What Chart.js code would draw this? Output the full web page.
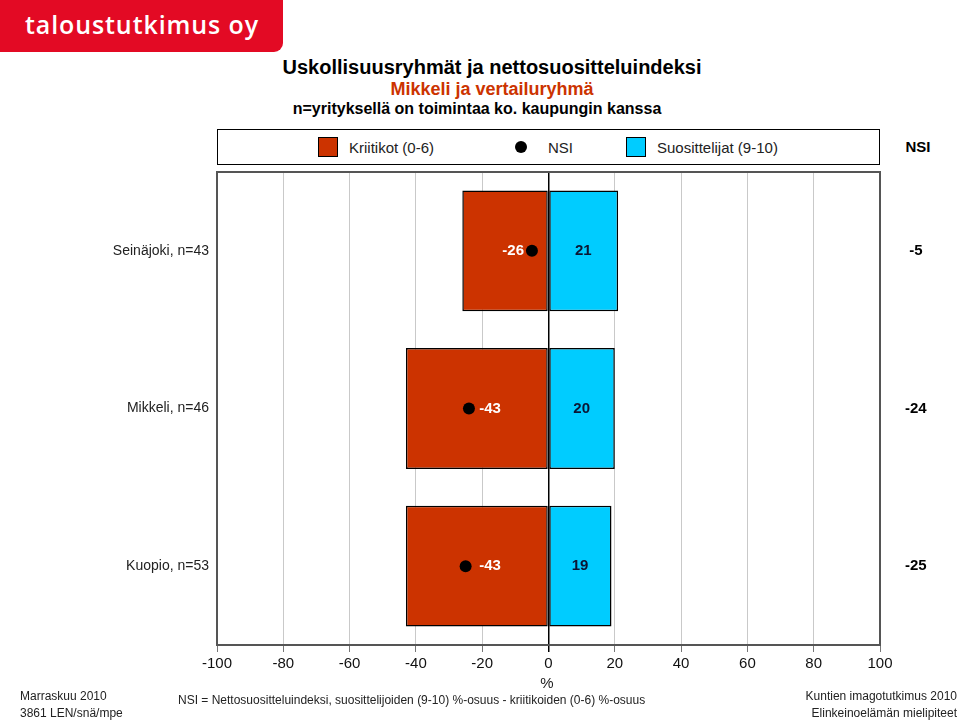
<!DOCTYPE html>
<html>
<head>
<meta charset="utf-8">
<script src="https://cdn.jsdelivr.net/npm/chart.js@4/dist/chart.umd.min.js"></script>
<style>
html,body{margin:0;padding:0;background:#fff;}
body{width:960px;height:720px;position:relative;overflow:hidden;font-family:"Liberation Sans",Arial,Helvetica,sans-serif;color:#111;}
#wrap{position:absolute;left:0;top:0;width:960px;height:720px;}
.t{position:absolute;white-space:nowrap;line-height:1;}
.c{transform:translateX(-50%);}
#logo{position:absolute;left:0;top:0;width:283px;height:52px;background:#E30A24;border-bottom-right-radius:9px;}
#logo span{position:absolute;left:25px;top:12px;font-family:"Open Sans",sans-serif;font-weight:600;font-size:25px;line-height:1;color:#fff;letter-spacing:0.9px;}
#legend{position:absolute;left:217px;top:129px;width:661px;height:34px;border:1px solid #000;}
.sq{position:absolute;width:18px;height:18px;border:1px solid #000;}
.dot{position:absolute;width:12px;height:12px;border-radius:50%;background:#000;}
</style>
</head>
<body>
<div id="logo"><span>taloustutkimus oy</span></div>

<div class="t c" style="left:492px;top:57px;font-size:20px;font-weight:bold;color:#000;">Uskollisuusryhmät ja nettosuositteluindeksi</div>
<div class="t c" style="left:492px;top:80px;font-size:18px;font-weight:bold;color:#CC3300;">Mikkeli ja vertailuryhmä</div>
<div class="t c" style="left:477px;top:101px;font-size:16px;font-weight:bold;color:#000;">n=yrityksellä on toimintaa ko. kaupungin kanssa</div>

<div id="legend"></div>
<div class="sq" style="left:318px;top:137px;background:#CC3300;"></div>
<div class="t" style="left:349px;top:140px;font-size:15px;color:#222;">Kriitikot (0-6)</div>
<div class="dot" style="left:515px;top:141px;"></div>
<div class="t" style="left:548px;top:140px;font-size:15px;color:#222;">NSI</div>
<div class="sq" style="left:626px;top:137px;background:#00CCFF;"></div>
<div class="t" style="left:657px;top:140px;font-size:15px;color:#222;">Suosittelijat (9-10)</div>
<div class="t c" style="left:918px;top:139px;font-size:15px;font-weight:bold;color:#000;">NSI</div>

<div id="wrap"><canvas id="chart" width="960" height="720"></canvas></div>

<div class="t c" style="left:547px;top:675px;font-size:15px;color:#222;">%</div>
<div class="t" style="left:20px;top:690px;font-size:12px;color:#222;">Marraskuu 2010</div>
<div class="t" style="left:20px;top:707px;font-size:12px;color:#222;">3861 LEN/snä/mpe</div>
<div class="t" style="left:178px;top:694px;font-size:12px;color:#222;">NSI = Nettosuositteluindeksi, suosittelijoiden (9-10) %-osuus - kriitikoiden (0-6) %-osuus</div>
<div class="t" style="right:3px;top:690px;font-size:12px;color:#222;text-align:right;">Kuntien imagotutkimus 2010</div>
<div class="t" style="right:3px;top:707px;font-size:12px;color:#222;text-align:right;">Elinkeinoelämän mielipiteet</div>

<script>
const categories = ['Seinäjoki, n=43', 'Mikkeli, n=46', 'Kuopio, n=53'];
const kriitikot = [-26, -43, -43];
const suosittelijat = [21, 20, 19];
const nsi = [-5, -24, -25];
const nsiLabels = ['-5', '-24', '-25'];
const xMin = -100, xMax = 100, xStep = 20;

const FONT = '"Liberation Sans", Arial, Helvetica, sans-serif';

const valueLabels = {
  id: 'valueLabels',
  afterDatasetsDraw(chart) {
    const {ctx, scales: {x, y}} = chart;
    ctx.save();
    ctx.font = 'bold 15px ' + FONT;
    ctx.textAlign = 'center';
    ctx.textBaseline = 'middle';
    categories.forEach((c, i) => {
      const yc = y.getPixelForValue(i);
      ctx.fillStyle = '#ffffff';
      ctx.fillText(String(kriitikot[i]), x.getPixelForValue(kriitikot[i] * 0.41), yc);
      ctx.fillStyle = '#0b1633';
      ctx.fillText(String(suosittelijat[i]), x.getPixelForValue(suosittelijat[i] / 2), yc);
    });
    ctx.restore();
  }
};

const frame = {
  id: 'frame',
  afterDraw(chart) {
    const {ctx, chartArea: a} = chart;
    ctx.save();
    ctx.strokeStyle = '#555';
    ctx.lineWidth = 2;
    ctx.strokeRect(a.left, a.top, a.right - a.left, a.bottom - a.top);
    ctx.restore();
  }
};

new Chart(document.getElementById('chart'), {
  type: 'bar',
  data: {
    labels: categories,
    datasets: [
      {
        type: 'line',
        label: 'NSI',
        data: nsi,
        indexAxis: 'y',
        xAxisID: 'x',
        yAxisID: 'y',
        showLine: false,
        pointRadius: 6,
        pointBackgroundColor: '#000',
        pointBorderColor: '#000',
        pointBorderWidth: 0,
        order: 0
      },
      {
        label: 'Kriitikot (0-6)',
        data: kriitikot,
        backgroundColor: '#CC3300',
        borderColor: '#000',
        borderWidth: 1.5,
        borderSkipped: false,
        grouped: false,
        barPercentage: 0.766,
        categoryPercentage: 1,
        order: 1
      },
      {
        label: 'Suosittelijat (9-10)',
        data: suosittelijat,
        backgroundColor: '#00CCFF',
        borderColor: '#000',
        borderWidth: 1.5,
        borderSkipped: false,
        grouped: false,
        barPercentage: 0.766,
        categoryPercentage: 1,
        order: 1
      }
    ]
  },
  options: {
    indexAxis: 'y',
    responsive: false,
    animation: false,
    events: [],
    layout: {padding: {top: 172, left: 0, right: 0, bottom: 0}},
    plugins: {legend: {display: false}, tooltip: {enabled: false}},
    scales: {
      x: {
        type: 'linear',
        position: 'bottom',
        min: xMin,
        max: xMax,
        ticks: {stepSize: xStep, color: '#111', font: {family: FONT, size: 15}, padding: 3, maxRotation: 0},
        grid: {
          color: c => (c.tick && c.tick.value === 0) ? '#000' : '#c9c9c9',
          lineWidth: c => (c.tick && c.tick.value === 0) ? 1.5 : 1,
          tickColor: c => (c.tick && c.tick.value === 0) ? '#000' : '#777',
          tickLength: 7
        },
        border: {display: false},
        afterFit: s => { s.height = 75; }
      },
      y: {
        type: 'category',
        position: 'left',
        offset: true,
        ticks: {color: '#222', font: {family: FONT, size: 14}, padding: 8},
        grid: {display: false, drawTicks: false},
        border: {display: false},
        afterFit: s => { s.width = 217; }
      },
      y2: {
        type: 'category',
        position: 'right',
        labels: nsiLabels,
        offset: true,
        ticks: {color: '#000', font: {family: FONT, size: 15, weight: 'bold'}, padding: 25, crossAlign: 'center'},
        grid: {display: false, drawTicks: false},
        border: {display: false},
        afterFit: s => { s.width = 80; }
      }
    }
  },
  plugins: [valueLabels, frame]
});
</script>
</body>
</html>
